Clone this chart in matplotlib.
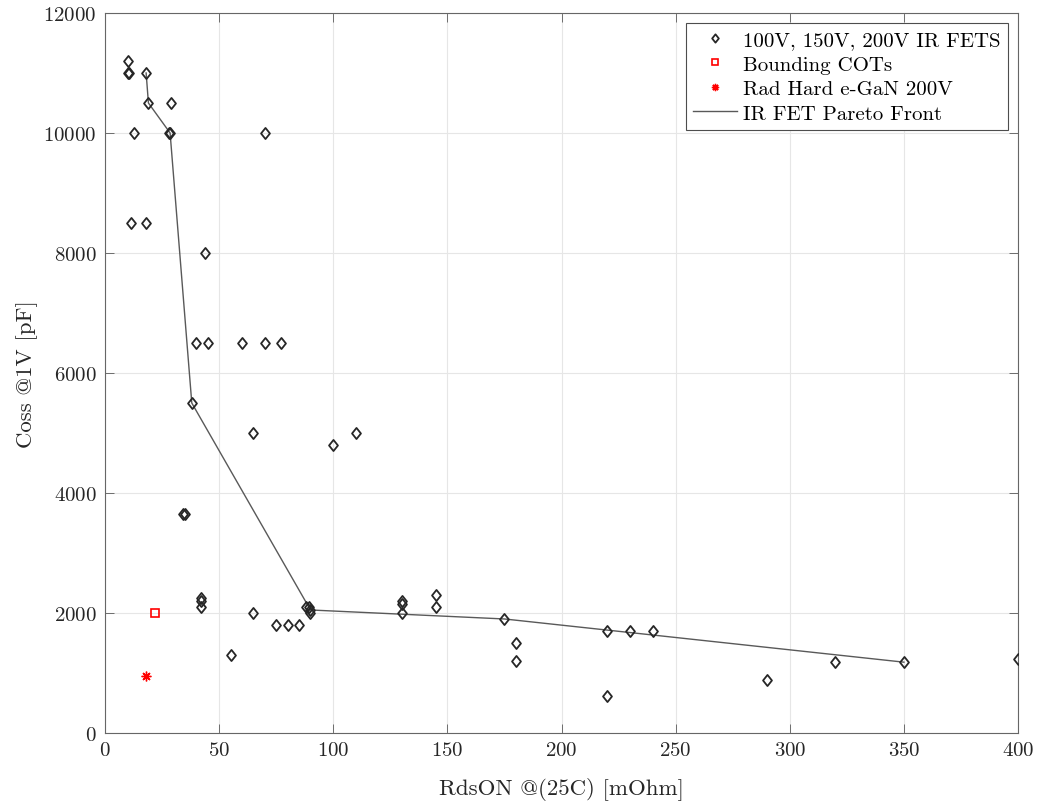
"""
Coss versus RdsON scatter of the IR FET candidates, with the Pareto front
and the two comparison parts.
"""

import matplotlib
matplotlib.use('Agg')
import matplotlib.pyplot as plt
from matplotlib.path import Path

plt.rcParams['font.family'] = 'cmr10'
plt.rcParams['mathtext.fontset'] = 'cm'
plt.rcParams['axes.formatter.use_mathtext'] = True

# 100V, 150V, 200V IR FETs: RdsON [mOhm], Coss @1V [pF]
ir_rds = [10, 10, 10.5, 18, 19, 29, 12.5, 28, 28.5, 70,
          11.5, 18, 44, 40, 45, 60, 70, 77, 38, 65,
          100, 110, 34, 35, 42, 42, 42, 65, 75, 80,
          85, 55, 88, 89.5, 90, 90, 130, 130, 130, 145,
          145, 175, 180, 180, 220, 230, 240, 220, 290, 320,
          350, 400]
ir_coss = [11200, 11000, 11000, 11000, 10500, 10500, 10000, 10000, 10000, 10000,
           8500, 8500, 8000, 6500, 6500, 6500, 6500, 6500, 5500, 5000,
           4800, 5000, 3650, 3650, 2250, 2200, 2100, 2000, 1800, 1800,
           1800, 1300, 2100, 2100, 2050, 2000, 2200, 2150, 2000, 2300,
           2100, 1900, 1500, 1200, 1700, 1700, 1700, 620, 880, 1180,
           1180, 1240]

# bounding COTS part and the rad hard e-GaN part
cots_rds = [22]
cots_coss = [2000]
gan_rds = [18]
gan_coss = [950]

# Pareto front through the IR FETs
pareto_rds = [18, 19, 28.5, 38, 90, 175, 350]
pareto_coss = [11000, 10500, 10000, 5500, 2050, 1900, 1180]

# matlab style diamond, a bit narrower than tall
diamond = Path([(0, 1), (0.8, 0), (0, -1), (-0.8, 0), (0, 1)],
               [Path.MOVETO, Path.LINETO, Path.LINETO, Path.LINETO, Path.CLOSEPOLY])

fig = plt.figure(figsize=(10.37, 8.04), dpi=100)
ax = fig.add_axes([0.1013, 0.0871, 0.8804, 0.8955])

ax.plot(ir_rds, ir_coss, linestyle='none', marker=diamond, markersize=8,
        markerfacecolor='none', markeredgecolor='0.15', markeredgewidth=1.3,
        label='100V, 150V, 200V IR FETS', zorder=3)
ax.plot(cots_rds, cots_coss, linestyle='none', marker='s', markersize=6,
        markerfacecolor='none', markeredgecolor='red', markeredgewidth=1.2,
        label='Bounding COTs', zorder=3)
ax.plot(gan_rds, gan_coss, linestyle='none', marker=(8, 2, 0), markersize=7,
        markeredgecolor='red', markeredgewidth=1.0,
        label='Rad Hard e-GaN 200V', zorder=3)
ax.plot(pareto_rds, pareto_coss, color='0.35', linewidth=1.0,
        label='IR FET Pareto Front', zorder=2)

ax.set_xlim(0, 400)
ax.set_ylim(0, 12000)
ax.set_xticks(range(0, 401, 50))
ax.set_yticks(range(0, 12001, 2000))
ax.grid(True, color='0.9', linewidth=0.8)
ax.set_axisbelow(True)

ax.tick_params(direction='in', length=6.5, width=0.6, color='0.35',
               top=True, right=True, labelsize=15, pad=6, labelcolor='0.15')
for spine in ax.spines.values():
    spine.set_color('0.4')
    spine.set_linewidth(0.8)

ax.set_xlabel('RdsON @(25C) [mOhm]', fontsize=16.5, color='0.15', labelpad=13)
ax.set_ylabel('Coss @1V [pF]', fontsize=16.5, color='0.15', labelpad=4)

leg = ax.legend(loc='upper right', fontsize=15, frameon=True, fancybox=False,
                edgecolor='0.3', framealpha=1, borderaxespad=0.5,
                handlelength=2.1, handletextpad=0.3, borderpad=0.35,
                labelspacing=0.28, markerscale=0.75)
leg.get_frame().set_linewidth(0.8)

plt.savefig('out.png', dpi=100)
